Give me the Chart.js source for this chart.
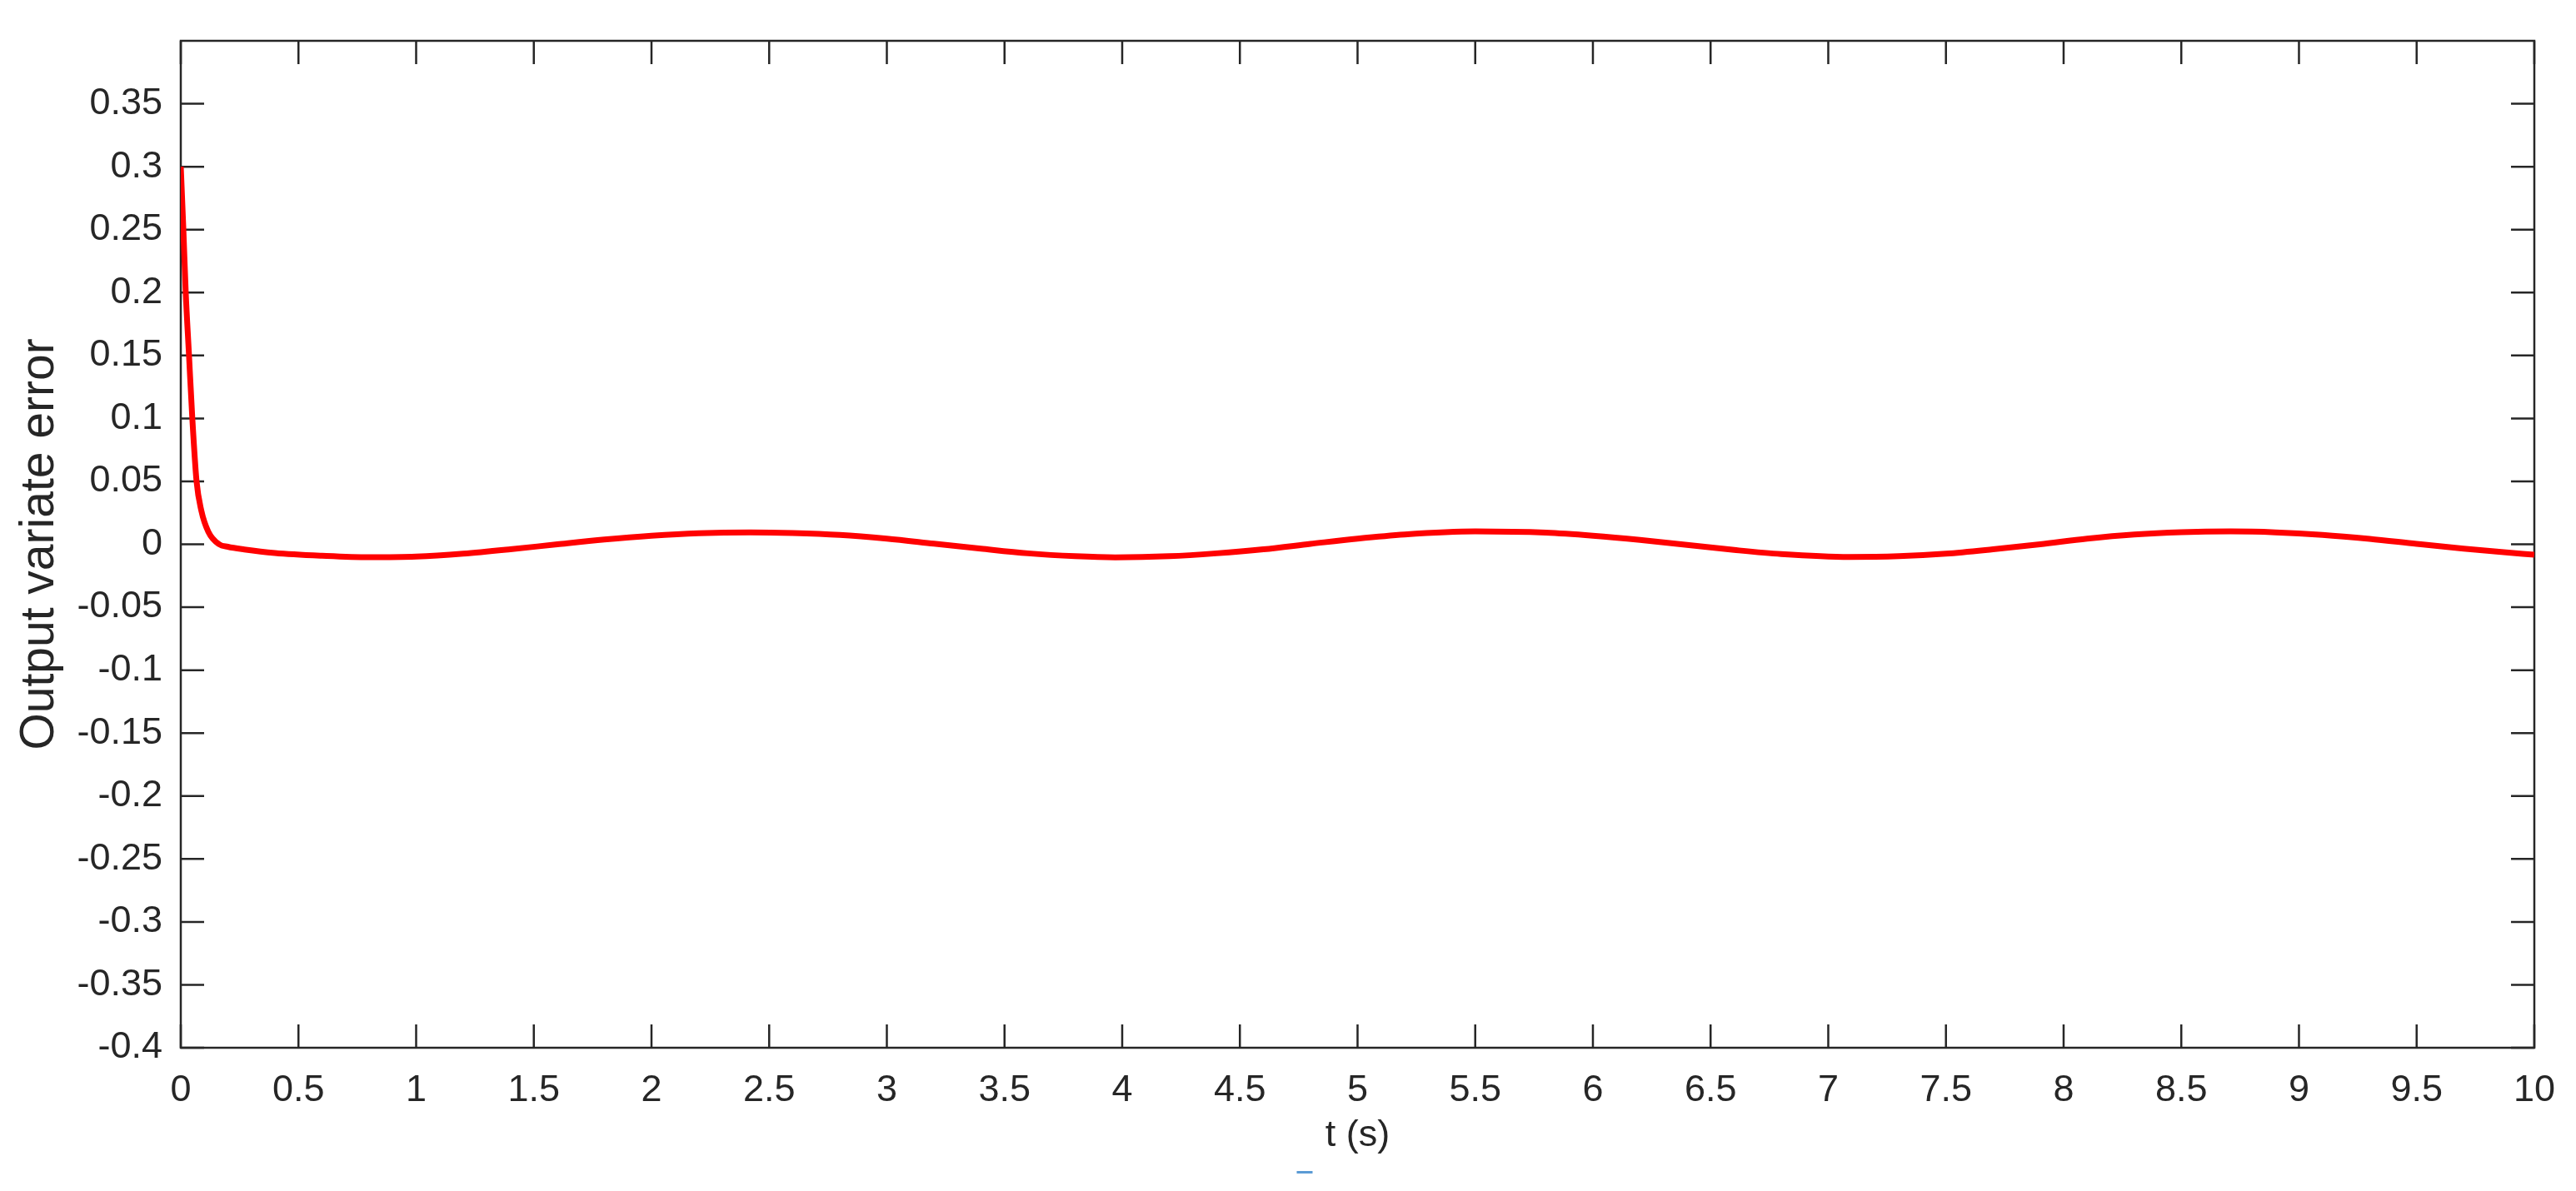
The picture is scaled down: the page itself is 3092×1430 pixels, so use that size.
<!DOCTYPE html>
<html>
<head>
<meta charset="utf-8">
<script src="https://cdn.jsdelivr.net/npm/chart.js@4.4.1/dist/chart.umd.min.js"></script>
<style>
  html, body { margin: 0; padding: 0; background: #fff; }
  #wrap { width: 3092px; height: 1430px; }
</style>
</head>
<body>
<div id="wrap"><canvas id="errChart" width="3092" height="1430"></canvas></div>
<script>
// time axis (s) and output variate error
const tValues = [
    0, 0.011, 0.021, 0.035, 0.049, 0.067, 0.087, 0.117, 0.163, 0.2, 0.27, 0.4, 0.6, 0.8,
    1.0, 1.2, 1.4, 1.6, 1.8, 2.0, 2.2, 2.42, 2.6, 2.8, 3.0, 3.2, 3.4, 3.6, 3.8, 3.97,
    4.2, 4.4, 4.6, 4.8, 5.0, 5.2, 5.5, 5.8, 6.0, 6.2, 6.4, 6.6, 6.8, 7.09,
    7.3, 7.5, 7.7, 7.9, 8.1, 8.3, 8.5, 8.71, 8.9, 9.1, 9.3, 9.5, 9.7, 9.85, 10
];
const errValues = [
    0.3, 0.25, 0.2, 0.15, 0.1, 0.05, 0.027, 0.01, 0.0, -0.002, -0.0041, -0.0069, -0.0091, -0.0103,
    -0.0098, -0.0075, -0.004, 0.0, 0.0038, 0.0068, 0.0088, 0.0095, 0.009, 0.0075, 0.0045, 0.0005, -0.0035, -0.0072, -0.0095, -0.0104,
    -0.0095, -0.0072, -0.004, 0.0003, 0.0045, 0.0078, 0.0102, 0.0092, 0.0068, 0.0035, -0.0005, -0.0045, -0.0078, -0.0101,
    -0.0095, -0.0075, -0.004, 0.0, 0.0045, 0.0078, 0.0096, 0.0102, 0.0095, 0.0075, 0.0043, 0.0003, -0.0035, -0.006, -0.0083
];
const xTicks = [0, 0.5, 1, 1.5, 2, 2.5, 3, 3.5, 4, 4.5, 5, 5.5, 6, 6.5, 7, 7.5, 8, 8.5, 9, 9.5, 10];
const yTicks = [-0.4, -0.35, -0.3, -0.25, -0.2, -0.15, -0.1, -0.05, 0, 0.05, 0.1, 0.15, 0.2, 0.25, 0.3, 0.35];

const axisColor = '#262626';
const fontFamily = "'Liberation Sans', Arial, Helvetica, sans-serif";
const tickLen = 28;

// MATLAB style box with inward ticks on all four sides
const boxTicks = {
    id: 'boxTicks',
    beforeDatasetsDraw(chart) {
        const { ctx, chartArea: a, scales: { x, y } } = chart;
        ctx.save();
        ctx.strokeStyle = axisColor;
        ctx.lineWidth = 2.5;
        ctx.beginPath();
        xTicks.forEach(v => {
            const px = x.getPixelForValue(v);
            ctx.moveTo(px, a.bottom); ctx.lineTo(px, a.bottom - tickLen);
            ctx.moveTo(px, a.top); ctx.lineTo(px, a.top + tickLen);
        });
        yTicks.forEach(v => {
            const py = y.getPixelForValue(v);
            ctx.moveTo(a.left, py); ctx.lineTo(a.left + tickLen, py);
            ctx.moveTo(a.right, py); ctx.lineTo(a.right - tickLen, py);
        });
        ctx.stroke();
        ctx.strokeRect(a.left, a.top, a.right - a.left, a.bottom - a.top);
        // small blue stroke left of the x label in the original
        ctx.fillStyle = '#5b9bd5';
        ctx.fillRect((a.left + a.right) / 2 - 73, chart.height - 24, 19, 3);
        ctx.restore();
    }
};

const fmt = v => String(Number(v.toFixed(2)));

new Chart(document.getElementById('errChart').getContext('2d'), {
    type: 'line',
    data: {
        datasets: [{
            data: tValues.map((t, i) => ({ x: t, y: errValues[i] })),
            borderColor: '#ff0000',
            borderWidth: 7,
            pointRadius: 0,
            fill: false,
            cubicInterpolationMode: 'monotone'
        }]
    },
    options: {
        responsive: false,
        animation: false,
        devicePixelRatio: 1,
        layout: { padding: { left: 0, top: 26, right: 45, bottom: 0 } },
        plugins: { legend: { display: false }, tooltip: { enabled: false } },
        scales: {
            x: {
                type: 'linear',
                min: 0,
                max: 10,
                grid: { display: false, drawTicks: false },
                border: { display: false },
                afterBuildTicks: s => { s.ticks = xTicks.map(v => ({ value: v })); },
                afterFit: s => { s.height = 172; },
                ticks: {
                    color: axisColor,
                    padding: 25,
                    maxRotation: 0,
                    autoSkip: false,
                    font: { family: fontFamily, size: 45 },
                    callback: v => fmt(v)
                },
                title: {
                    display: true,
                    text: 't (s)',
                    color: axisColor,
                    font: { family: fontFamily, size: 45 },
                    padding: { top: 0, bottom: 39 }
                }
            },
            y: {
                type: 'linear',
                min: -0.4,
                max: 0.4,
                grid: { display: false, drawTicks: false },
                border: { display: false },
                afterBuildTicks: s => { s.ticks = yTicks.map(v => ({ value: v })); },
                afterFit: s => { s.width = 217; },
                ticks: {
                    color: axisColor,
                    padding: 22,
                    autoSkip: false,
                    font: { family: fontFamily, size: 45 },
                    callback: v => fmt(v)
                },
                title: {
                    display: true,
                    text: 'Output variate error',
                    color: axisColor,
                    font: { family: fontFamily, size: 57 },
                    padding: { top: 14, bottom: 0 }
                }
            }
        }
    },
    plugins: [boxTicks]
});
</script>
</body>
</html>
